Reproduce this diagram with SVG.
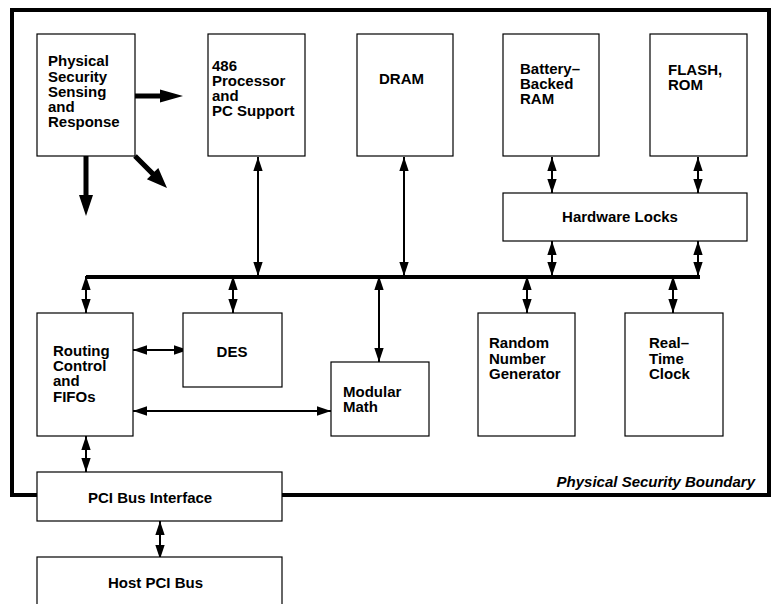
<svg xmlns="http://www.w3.org/2000/svg" width="774" height="604" viewBox="0 0 774 604">
<defs>
<marker id="ah" markerUnits="userSpaceOnUse" markerWidth="14" markerHeight="10" refX="12" refY="4" orient="auto-start-reverse" viewBox="0 0 12 8">
<path d="M0,0 L12,4 L0,8 Z" fill="#000"/>
</marker>
</defs>
<style>
.box{fill:#fff;stroke:#000;stroke-width:1.2}
.t{font-family:"Liberation Sans",Arial,sans-serif;font-weight:bold;font-size:15px;fill:#000}
.c{stroke:#000;stroke-width:2;fill:none;marker-start:url(#ah);marker-end:url(#ah)}
.thick{fill:#000;stroke:none}
</style>
<rect x="0" y="0" width="774" height="604" fill="#fff"/>
<rect id="boundary" x="12" y="10" width="757" height="485" fill="none" stroke="#000" stroke-width="4"/>
<text class="t" x="755" y="487" text-anchor="end" font-style="italic" font-size="14.5px">Physical Security Boundary</text>

<g id="connectors">
<line x1="86" y1="277" x2="700" y2="277" stroke="#000" stroke-width="4"/>
<path class="thick" d="M135,93.5 L160,93.5 L160,89.5 L183,96 L160,102.5 L160,98.5 L135,98.5 Z"/>
<path class="thick" d="M83.5,156 L83.5,195 L79,195 L86,216 L93,195 L88.5,195 L88.5,156 Z"/>
<path class="thick" d="M136.8,154.2 L154.4,171.8 L158.3,167.9 L167,188 L146.9,179.3 L150.8,175.4 L133.2,157.8 Z"/>
<line class="c" x1="258" y1="157" x2="258" y2="276"/>
<line class="c" x1="404" y1="157" x2="404" y2="276"/>
<line class="c" x1="552" y1="157" x2="552" y2="193"/>
<line class="c" x1="698" y1="157" x2="698" y2="193"/>
<line class="c" x1="552" y1="241" x2="552" y2="276"/>
<line class="c" x1="698" y1="241" x2="698" y2="276"/>
<line class="c" x1="86" y1="276" x2="86" y2="313"/>
<line class="c" x1="233" y1="276" x2="233" y2="313"/>
<line class="c" x1="379" y1="276" x2="379" y2="362"/>
<line class="c" x1="527" y1="276" x2="527" y2="313"/>
<line class="c" x1="673" y1="276" x2="673" y2="313"/>
<line class="c" x1="133" y1="350" x2="188" y2="350"/>
<line class="c" x1="133" y1="411" x2="331" y2="411"/>
<line class="c" x1="86" y1="436" x2="86" y2="472"/>
<line class="c" x1="160" y1="521" x2="160" y2="559"/>
</g>

<g id="physical">
<rect class="box" x="37" y="34" width="98" height="122"/>
<text class="t" x="48" y="66">Physical</text>
<text class="t" x="48" y="81.5">Security</text>
<text class="t" x="48" y="97">Sensing</text>
<text class="t" x="48" y="112">and</text>
<text class="t" x="48" y="127">Response</text>
</g>
<g id="cpu">
<rect class="box" x="208" y="34" width="97" height="122"/>
<text class="t" x="212" y="71">486</text>
<text class="t" x="212" y="86">Processor</text>
<text class="t" x="212" y="101">and</text>
<text class="t" x="212" y="116">PC Support</text>
</g>
<g id="dram">
<rect class="box" x="357" y="34" width="96" height="122"/>
<text class="t" x="379" y="84">DRAM</text>
</g>
<g id="bbram">
<rect class="box" x="503" y="34" width="96" height="122"/>
<text class="t" x="520" y="74">Battery–</text>
<text class="t" x="520" y="89">Backed</text>
<text class="t" x="520" y="103.5">RAM</text>
</g>
<g id="flash">
<rect class="box" x="650" y="34" width="97" height="122"/>
<text class="t" x="668" y="75">FLASH,</text>
<text class="t" x="668" y="90">ROM</text>
</g>
<g id="locks">
<rect class="box" x="503" y="193" width="244" height="48"/>
<text class="t" x="620" y="222" text-anchor="middle">Hardware Locks</text>
</g>
<g id="routing">
<rect class="box" x="37" y="313" width="96" height="123"/>
<text class="t" x="53" y="356">Routing</text>
<text class="t" x="53" y="371">Control</text>
<text class="t" x="53" y="386">and</text>
<text class="t" x="53" y="402">FIFOs</text>
</g>
<g id="des">
<rect class="box" x="183" y="313" width="99" height="74"/>
<text class="t" x="232" y="357" text-anchor="middle">DES</text>
</g>
<g id="modmath">
<rect class="box" x="331" y="362" width="98" height="74"/>
<text class="t" x="343" y="397">Modular</text>
<text class="t" x="343" y="412">Math</text>
</g>
<g id="rng">
<rect class="box" x="478" y="313" width="97" height="123"/>
<text class="t" x="489" y="348">Random</text>
<text class="t" x="489" y="363.5">Number</text>
<text class="t" x="489" y="379">Generator</text>
</g>
<g id="rtc">
<rect class="box" x="625" y="313" width="98" height="123"/>
<text class="t" x="649" y="348">Real–</text>
<text class="t" x="649" y="363.5">Time</text>
<text class="t" x="649" y="379">Clock</text>
</g>
<g id="pci">
<rect class="box" x="37" y="472" width="245" height="49"/>
<text class="t" x="88" y="503">PCI Bus Interface</text>
</g>
<g id="host">
<rect class="box" x="37" y="557" width="245" height="52"/>
<text class="t" x="108" y="588">Host PCI Bus</text>
</g>
</svg>
